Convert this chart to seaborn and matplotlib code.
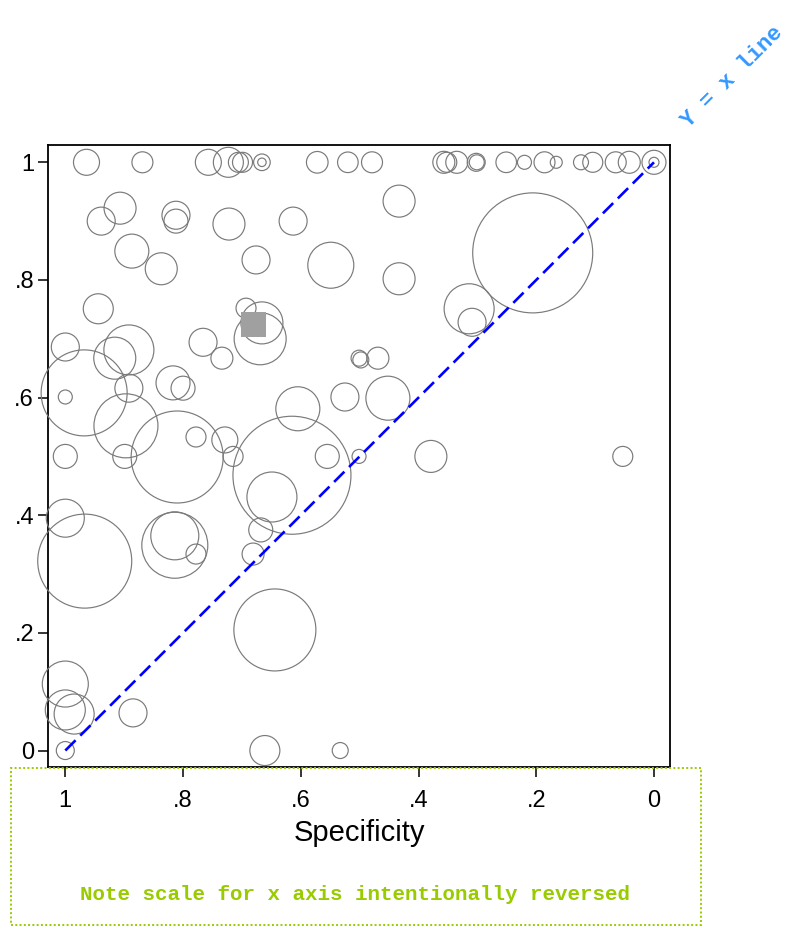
import numpy as np
import pandas as pd
import matplotlib
matplotlib.use("Agg")
import matplotlib.pyplot as plt
from matplotlib.patches import Rectangle
import seaborn as sns

# Study-level estimates: specificity, sensitivity and study size (bubble area ~ size)
specificity = [
    0.964, 0.869, 0.757, 0.723, 0.706, 0.699, 0.666, 0.666, 0.572, 0.520,
    0.479, 0.357, 0.352, 0.335, 0.302, 0.301, 0.251, 0.220, 0.186, 0.166,
    0.124, 0.104, 0.065, 0.042, 0.000, 0.000,
    0.907, 0.939, 0.812, 0.812, 0.722, 0.613, 0.887, 0.837, 0.676, 0.549,
    0.433, 0.433, 0.206, 0.314, 0.309, 0.944, 0.693, 0.666, 0.669, 0.766,
    0.734, 1.000, 0.892, 0.916, 0.968, 1.000, 0.892, 0.817, 0.800, 0.605,
    0.525, 0.501, 0.498, 0.469, 0.452, 0.897, 0.810, 1.000, 0.899, 0.778,
    0.729, 0.715, 0.615, 0.649, 0.555, 0.501, 0.379, 0.053, 1.000, 0.967,
    0.814, 0.814, 0.778, 0.668, 0.681, 0.644, 1.000, 1.000, 0.985, 0.885,
    1.000, 0.661, 0.533,
]
sensitivity = [
    1.000, 1.000, 1.000, 1.000, 1.000, 1.000, 1.000, 1.000, 1.000, 1.000,
    1.000, 1.000, 1.000, 1.000, 1.000, 1.000, 1.000, 1.000, 1.000, 1.000,
    1.000, 1.000, 1.000, 1.000, 1.000, 1.000,
    0.922, 0.900, 0.910, 0.900, 0.895, 0.900, 0.849, 0.819, 0.834, 0.825,
    0.934, 0.802, 0.846, 0.751, 0.728, 0.751, 0.752, 0.727, 0.700, 0.694,
    0.667, 0.686, 0.681, 0.667, 0.608, 0.601, 0.616, 0.625, 0.616, 0.581,
    0.601, 0.667, 0.664, 0.667, 0.599, 0.552, 0.499, 0.500, 0.500, 0.533,
    0.528, 0.500, 0.468, 0.431, 0.500, 0.500, 0.500, 0.500, 0.395, 0.322,
    0.349, 0.365, 0.334, 0.375, 0.334, 0.205, 0.113, 0.069, 0.062, 0.064,
    0.000, 0.000, 0.000,
]
study_n = [
    169, 110, 169, 225, 100, 100, 69, 18, 117, 106,
    110, 121, 100, 121, 81, 56, 106, 49, 110, 36,
    56, 100, 110, 121, 144, 25,
    256, 196, 196, 144, 256, 196, 289, 256, 196, 529,
    256, 256, 3600, 625, 196, 225, 100, 441, 676, 196,
    121, 196, 625, 441, 1849, 49, 196, 289, 144, 484,
    196, 64, 64, 121, 484, 1024, 2116, 144, 144, 100,
    169, 100, 3481, 625, 144, 49, 256, 100, 361, 2209,
    1089, 576, 100, 144, 121, 1681, 529, 400, 400, 196,
    81, 225, 64,
]

# Summary (pooled) point
summary_spec = [0.681]
summary_sens = [0.725]

# Reference diagonal
diag_spec = [1.0, 0.0]
diag_sens = [0.0, 1.0]

x_ticks = [1.0, 0.8, 0.6, 0.4, 0.2, 0.0]
x_ticklabels = ["1", ".8", ".6", ".4", ".2", "0"]
y_ticks = [0.0, 0.2, 0.4, 0.6, 0.8, 1.0]
y_ticklabels = ["0", ".2", ".4", ".6", ".8", "1"]

studies = pd.DataFrame({"spec": specificity, "sens": sensitivity, "n": study_n})

sns.set_style("white")
plt.rcParams["font.family"] = ["Liberation Sans", "DejaVu Sans"]
plt.rcParams["text.color"] = "black"
plt.rcParams["axes.labelcolor"] = "black"

DPI = 100
fig = plt.figure(figsize=(7.87, 9.40), dpi=DPI)
ax = fig.add_axes([0.06099, 0.18404, 0.79034, 0.66170])

# bubble area in pt^2 proportional to study size
pt_per_px = 72.0 / DPI
area_scale = (2 * pt_per_px) ** 2
n_max = max(study_n)
sns.scatterplot(
    data=studies, x="spec", y="sens", size="n",
    sizes=(0, n_max * area_scale), size_norm=(0, n_max),
    facecolor="none", edgecolor="#7a7a7a", linewidth=0.85,
    legend=False, clip_on=False, ax=ax, zorder=3,
)

sns.scatterplot(
    x=summary_spec, y=summary_sens, marker="s", s=(25 * pt_per_px) ** 2,
    color="#a0a0a0", edgecolor="none", linewidth=0, ax=ax, zorder=4,
    legend=False,
)

sns.lineplot(
    x=diag_spec, y=diag_sens, color="#0000ff", linewidth=1.9,
    ax=ax, zorder=5, sort=False,
)
ax.lines[-1].set_dashes([5.5, 2.5])

ax.set_xlim(1.0294, -0.0272)
ax.set_ylim(-0.028, 1.0294)
ax.set_xticks(x_ticks)
ax.set_xticklabels(x_ticklabels)
ax.set_yticks(y_ticks)
ax.set_yticklabels(y_ticklabels)
ax.tick_params(axis="both", direction="out", length=7, width=1.1,
               color="black", labelsize=17, labelcolor="black",
               bottom=True, left=True)
ax.tick_params(axis="x", pad=9.5)
ax.tick_params(axis="y", pad=3)
ax.set_xlabel("Specificity", fontsize=21, labelpad=5, color="black")
ax.set_ylabel("")
for sp in ax.spines.values():
    sp.set_visible(True)
    sp.set_color("black")
    sp.set_linewidth(1.3)

# annotation for the diagonal, near the top-right corner
fig.text(689 / 787, 1 - 128 / 940, "Y = x line", rotation=45,
         rotation_mode="anchor", ha="left", va="baseline",
         fontsize=16, fontweight="bold", color="#3399ff",
         family=["Liberation Mono", "DejaVu Sans Mono"])

# note box below the plot
fig.patches.append(Rectangle((11 / 787, 1 - 925 / 940), (701 - 11) / 787,
                             (925 - 768) / 940, transform=fig.transFigure,
                             fill=False, edgecolor="#99cc00", linewidth=1.4,
                             linestyle=(0, (1, 1.2)), zorder=0))
fig.text(355 / 787, 1 - 895 / 940, "Note scale for x axis intentionally reversed",
         ha="center", va="center", fontsize=15, fontweight="bold",
         color="#99cc00", family=["Liberation Mono", "DejaVu Sans Mono"])

fig.savefig("out.png", dpi=DPI)
